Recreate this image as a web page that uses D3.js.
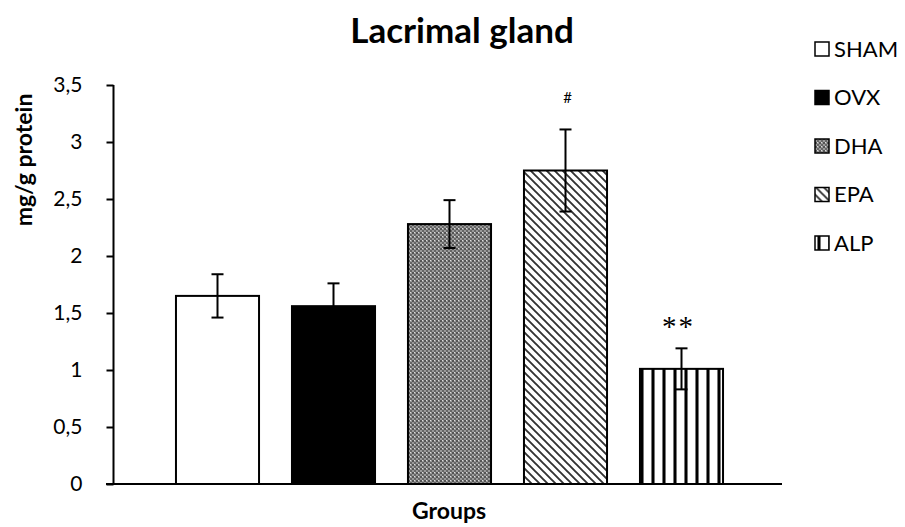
<!DOCTYPE html>
<html lang="en">

<head>
    <meta charset="UTF-8">
    <title>Lacrimal gland</title>

    <!-- Importing the D3.js library -->
    <script src="https://d3js.org/d3.v7.min.js"></script>

    <style>
        body {
            margin: 0;
            background: #fff;
        }

        .axis text {
            font-family: Lato, "Open Sans", sans-serif;
            font-size: 21px;
            fill: #000;
        }

        .legend text {
            font-family: Lato, "Open Sans", sans-serif;
            font-size: 22px;
        }
    </style>
</head>

<body>
    <script>
        // Chart data
        const groups = ["SHAM", "OVX", "DHA", "EPA", "ALP"];
        const means = [1.65, 1.56, 2.28, 2.75, 1.01];
        const errors = [0.19, 0.20, 0.21, 0.36, 0.18];
        const showLower = [true, false, true, true, true];
        const marks = ["", "", "", "#", "**"];
        const yTicks = [0, 0.5, 1, 1.5, 2, 2.5, 3, 3.5];

        // Setting dimensions
        const width = 905;
        const height = 527;

        const svg = d3.select("body").append("svg")
            .attr("width", width)
            .attr("height", height);

        // Fill patterns for the bars
        const defs = svg.append("defs");

        const dots = defs.append("pattern")
            .attr("id", "fill-DHA")
            .attr("patternUnits", "userSpaceOnUse")
            .attr("width", 4)
            .attr("height", 4);
        dots.append("rect").attr("width", 4).attr("height", 4).attr("fill", "#9a9a9a");
        dots.append("rect").attr("width", 2).attr("height", 2).attr("fill", "#555");
        dots.append("rect").attr("x", 2).attr("y", 2).attr("width", 2).attr("height", 2).attr("fill", "#666");
        dots.append("rect").attr("x", 2).attr("y", 0).attr("width", 1).attr("height", 1).attr("fill", "#ddd");

        const diag = defs.append("pattern")
            .attr("id", "fill-EPA")
            .attr("patternUnits", "userSpaceOnUse")
            .attr("width", 8)
            .attr("height", 8);
        diag.append("rect").attr("width", 8).attr("height", 8).attr("fill", "#fff");
        diag.append("path")
            .attr("d", "M-2,-2L10,10M-6,2L2,10M6,-2L10,2")
            .attr("stroke", "#333")
            .attr("stroke-width", 1.9);

        const vert = defs.append("pattern")
            .attr("id", "fill-ALP")
            .attr("patternUnits", "userSpaceOnUse")
            .attr("width", 11)
            .attr("height", 11)
            .attr("x", 640);
        vert.append("rect").attr("width", 11).attr("height", 11).attr("fill", "#fff");
        vert.append("rect").attr("x", 0).attr("width", 4).attr("height", 11).attr("fill", "#777");
        vert.append("rect").attr("x", 1).attr("width", 2).attr("height", 11).attr("fill", "#000");

        const fills = {
            SHAM: "#fff",
            OVX: "#000",
            DHA: "url(#fill-DHA)",
            EPA: "url(#fill-EPA)",
            ALP: "url(#fill-ALP)"
        };

        // Scales
        const x = d3.scaleBand()
            .domain(groups)
            .range([159.5, 739.5])
            .paddingInner(0.284)
            .paddingOuter(0.142);

        const y = d3.scaleLinear()
            .domain([0, 3.5])
            .range([484, 85]);

        // Y axis
        const yAxis = svg.append("g")
            .attr("class", "axis")
            .attr("transform", "translate(113.5,0)")
            .call(d3.axisLeft(y).tickValues(yTicks).tickSize(7).tickSizeOuter(0).tickPadding(24)
                .tickFormat(d => String(d).replace(".", ",")));
        yAxis.selectAll("line, path").attr("stroke", "#000").attr("stroke-width", 2);
        yAxis.select(".domain").attr("d", `M0,${y(3.5)}V${y(0)}`);

        // Bars
        const data = groups.map((g, i) => ({ group: g, mean: means[i], err: errors[i], lower: showLower[i], mark: marks[i] }));

        svg.selectAll(".bar")
            .data(data)
            .join("rect")
            .attr("class", "bar")
            .attr("x", d => x(d.group))
            .attr("y", d => y(d.mean))
            .attr("width", x.bandwidth())
            .attr("height", d => y(0) - y(d.mean))
            .attr("fill", d => fills[d.group])
            .attr("stroke", "#000")
            .attr("stroke-width", 2);

        // X axis baseline
        svg.append("line")
            .attr("x1", 106)
            .attr("x2", 782)
            .attr("y1", y(0))
            .attr("y2", y(0))
            .attr("stroke", "#000")
            .attr("stroke-width", 2);

        // Error bars
        const err = svg.selectAll(".err")
            .data(data)
            .join("g")
            .attr("class", "err")
            .attr("transform", d => `translate(${x(d.group) + x.bandwidth() / 2},0)`)
            .attr("stroke", "#000")
            .attr("stroke-width", 2);

        err.append("line")
            .attr("y1", d => y(d.mean + d.err))
            .attr("y2", d => d.lower ? y(d.mean - d.err) : y(d.mean));
        err.append("line")
            .attr("x1", -6).attr("x2", 6)
            .attr("y1", d => y(d.mean + d.err))
            .attr("y2", d => y(d.mean + d.err));
        err.filter(d => d.lower).append("line")
            .attr("x1", -6).attr("x2", 6)
            .attr("y1", d => y(d.mean - d.err))
            .attr("y2", d => y(d.mean - d.err));

        // Significance marks
        svg.selectAll(".mark")
            .data(data.filter(d => d.mark === "#"))
            .join("text")
            .attr("class", "mark")
            .attr("x", d => x(d.group) + x.bandwidth() / 2 + 2)
            .attr("y", 103)
            .attr("text-anchor", "middle")
            .style("font-family", "Lato, sans-serif")
            .style("font-size", "15px")
            .text(d => d.mark);

        svg.selectAll(".mark2")
            .data(data.filter(d => d.mark === "**"))
            .join("text")
            .attr("class", "mark2")
            .attr("x", d => x(d.group) + x.bandwidth() / 2 - 3)
            .attr("y", 336)
            .attr("text-anchor", "middle")
            .style("font-family", "'Liberation Serif', serif")
            .style("font-size", "29px")
            .style("letter-spacing", "2px")
            .text(d => d.mark);

        // Title
        svg.append("text")
            .attr("x", 462)
            .attr("y", 43)
            .attr("text-anchor", "middle")
            .style("font-family", "Lato, sans-serif")
            .style("font-weight", "bold")
            .style("font-size", "35px")
            .text("Lacrimal gland");

        // Axis labels
        svg.append("text")
            .attr("x", 449)
            .attr("y", 519)
            .attr("text-anchor", "middle")
            .style("font-family", "Lato, sans-serif")
            .style("font-weight", "bold")
            .style("font-size", "23px")
            .text("Groups");

        svg.append("text")
            .attr("transform", "translate(32,160) rotate(-90)")
            .attr("text-anchor", "middle")
            .style("font-family", "Lato, sans-serif")
            .style("font-weight", "bold")
            .style("font-size", "23px")
            .text("mg/g protein");

        // Legend
        const legend = svg.selectAll(".legend")
            .data(groups)
            .join("g")
            .attr("class", "legend")
            .attr("transform", (d, i) => `translate(815,${49 + i * 48.5})`);

        legend.append("rect")
            .attr("x", 0)
            .attr("y", -7)
            .attr("width", 14)
            .attr("height", 14)
            .attr("fill", d => fills[d])
            .attr("stroke", "#000")
            .attr("stroke-width", 1.5);

        legend.append("text")
            .attr("x", 19)
            .attr("dy", "0.36em")
            .text(d => d);
    </script>
</body>

</html>
